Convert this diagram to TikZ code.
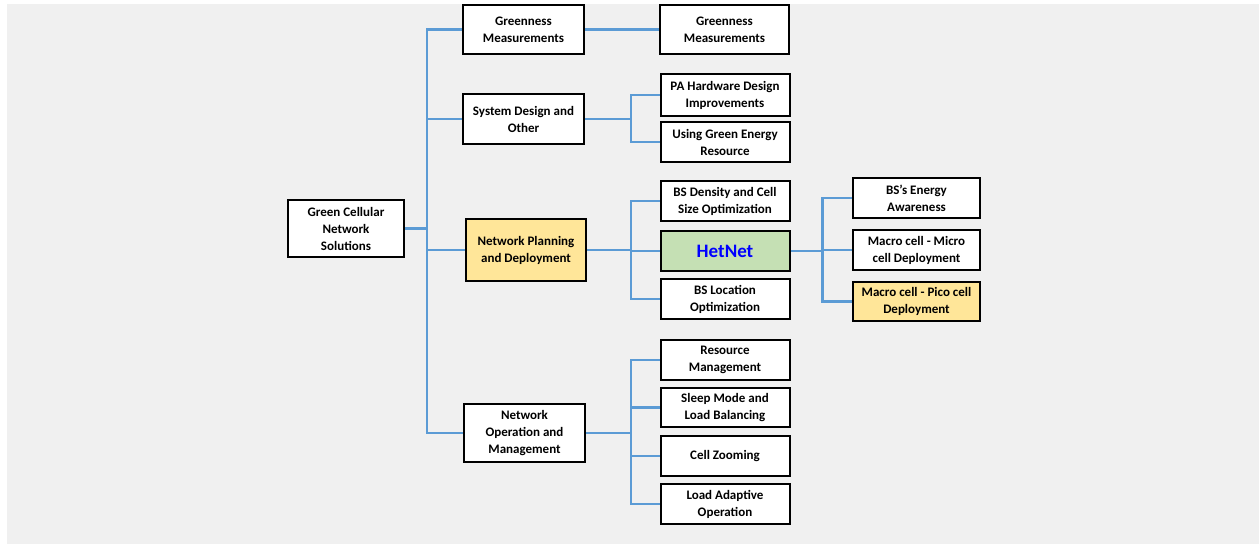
\documentclass[tikz,border=0pt]{standalone}
\usepackage{fontspec}
\setmainfont{Carlito}
\usepackage{tikz}
\usepackage{xcolor}
\definecolor{page-gray}{HTML}{F0F0F0}
\definecolor{link-blue}{HTML}{5B9BD5}
\definecolor{plan-yellow}{HTML}{FFE699}
\definecolor{het-green}{HTML}{C5E0B4}
\tikzset{
    plain-box/.style = {draw=black, fill=white, line width=2pt, rectangle, align=center, inner sep=2pt, font=\fontsize{13}{17}\selectfont\bfseries},
    yellow-box/.style = {plain-box, fill=plan-yellow},
    link/.style = {draw=link-blue, line width=2.5pt},
}

\begin{document}
\begin{tikzpicture}[x=1pt, y=-1pt]
\useasboundingbox (0,0) rectangle (1259,544);
\fill[page-gray] (7,4) rectangle (1259,544);
\node [plain-box, minimum width=116pt, minimum height=57pt] (root) at (346,228.5) {Green Cellular\\Network\\Solutions};
\node [plain-box, minimum width=121pt, minimum height=49pt] (gm1) at (523.5,29.5) {Greenness\\Measurements};
\node [plain-box, minimum width=121pt, minimum height=50pt] (sys) at (523.5,119) {System Design and\\Other};
\node [yellow-box, minimum width=120pt, minimum height=62pt] (plan) at (526,250) {Network Planning\\and Deployment};
\node [plain-box, minimum width=121pt, minimum height=58pt] (op) at (524.5,433) {Network\\Operation and\\Management};
\node [plain-box, minimum width=129pt, minimum height=49pt] (gm2) at (724.5,29.5) {Greenness\\Measurements};
\node [plain-box, minimum width=129pt, minimum height=42pt] (pa) at (725,95) {PA Hardware Design\\Improvements};
\node [plain-box, minimum width=129pt, minimum height=40pt] (uge) at (725,142) {Using Green Energy\\Resource};
\node [plain-box, minimum width=129pt, minimum height=40pt] (bsd) at (725,201) {BS Density and Cell\\Size Optimization};
\node [plain-box, fill=het-green, minimum width=129pt, minimum height=40pt, font=\fontsize{19}{22}\selectfont\bfseries, text=blue] (het) at (725,251) {HetNet};
\node [plain-box, minimum width=129pt, minimum height=40pt] (bsl) at (725,299) {BS Location\\Optimization};
\node [plain-box, minimum width=129pt, minimum height=40pt] (res) at (725,360) {Resource\\Management};
\node [plain-box, minimum width=129pt, minimum height=39pt] (slp) at (725,407.5) {Sleep Mode and\\Load Balancing};
\node [plain-box, minimum width=129pt, minimum height=40pt] (cz) at (725,456) {Cell Zooming};
\node [plain-box, minimum width=129pt, minimum height=40pt] (lao) at (725,504) {Load Adaptive\\Operation};
\node [plain-box, minimum width=127pt, minimum height=40pt] (awr) at (916.5,198) {BS’s Energy\\Awareness};
\node [plain-box, minimum width=127pt, minimum height=40pt] (mic) at (916.5,250) {Macro cell - Micro\\cell Deployment};
\node [yellow-box, minimum width=127pt, minimum height=39pt] (pic) at (916.5,301.5) {Macro cell - Pico cell\\Deployment};
\draw[link] (root.east) -- ++(22,0) coordinate (trunk);
\foreach \n in {gm1,sys,plan,op}
    \draw[link] (\n.west) -| (trunk);
\draw[link] (gm1.east) -- (gm2.west);
\draw[link] (sys.east) -- ++(46,0) coordinate (sys-fork);
\foreach \n in {pa,uge}
    \draw[link] (\n.west) -| (sys-fork);
\draw[link] (plan.east) -- ++(44,0) coordinate (plan-fork);
\foreach \n in {bsd,het,bsl}
    \draw[link] (\n.west) -| (plan-fork);
\draw[link] (op.east) -- ++(45,0) coordinate (op-fork);
\foreach \n in {res,slp,cz,lao}
    \draw[link] (\n.west) -| (op-fork);
\draw[link] (het.east) -- ++(32,0) coordinate (het-fork);
\foreach \n in {awr,mic,pic}
    \draw[link] (\n.west) -| (het-fork);
\end{tikzpicture}
\end{document}
